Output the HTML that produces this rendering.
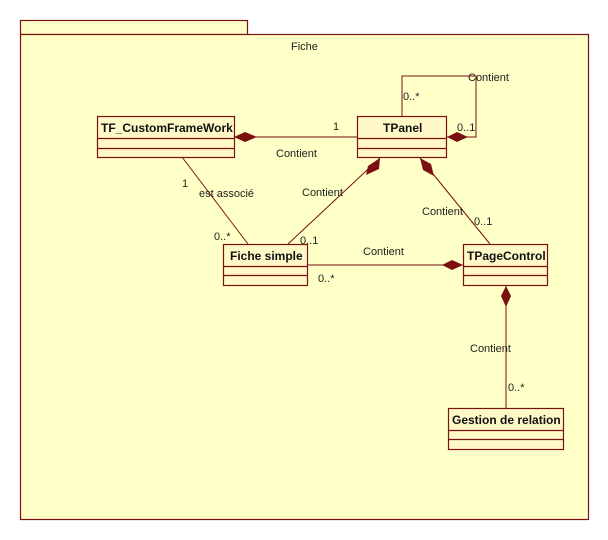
<!DOCTYPE html>
<html><head><meta charset="utf-8"><style>
html,body{margin:0;padding:0;background:#fff;}
svg{display:block;font-family:"Liberation Sans",sans-serif;font-size:11px;}
.b{font-weight:bold;font-size:12px;}
</style></head><body>
<svg width="608" height="540" viewBox="0 0 608 540" xmlns="http://www.w3.org/2000/svg">
<g fill="#ffffc8" stroke="#7a1010" stroke-width="1.2">
<rect x="20.5" y="20.5" width="227" height="14"/>
<rect x="20.5" y="34.5" width="568" height="485"/>
</g>
<text x="291" y="50" fill="#222">Fiche</text>
<g fill="none" stroke="#7a1010" stroke-width="1">
<polyline points="402,116 402,76 476,76 476,137 447,137"/>
<line x1="234" y1="137" x2="358" y2="137"/>
<line x1="182" y1="157" x2="248" y2="244"/>
<line x1="288" y1="244" x2="380" y2="158"/>
<line x1="490" y1="244" x2="420" y2="158"/>
<line x1="308" y1="265" x2="463" y2="265"/>
<line x1="506" y1="285" x2="506" y2="408"/>
</g>
<g fill="#7a1010">
<polygon points="447,137 457,132 468,137 457,142"/>
<polygon points="234,137 245,132 257,137 245,142"/>
<polygon points="463,265 452,260 442,265 452,270"/>
<polygon points="506,286 511,296 506,307 501,296"/>
<polygon points="380,158 379,169 366,175 368,166"/>
<polygon points="420,158 431,164 434,176 423,170"/>
</g>
<g fill="#fff9c8" stroke="#7a1010" stroke-width="1.2">
<rect x="97.5" y="116.5" width="137" height="41"/><line x1="97" y1="138.5" x2="234" y2="138.5"/><line x1="97" y1="148.5" x2="234" y2="148.5"/>
<rect x="357.5" y="116.5" width="89" height="41"/><line x1="357" y1="138.5" x2="447" y2="138.5"/><line x1="357" y1="148.5" x2="447" y2="148.5"/>
<rect x="223.5" y="244.5" width="84" height="41"/><line x1="223" y1="266.5" x2="308" y2="266.5"/><line x1="223" y1="275.5" x2="308" y2="275.5"/>
<rect x="463.5" y="244.5" width="84" height="41"/><line x1="463" y1="266.5" x2="548" y2="266.5"/><line x1="463" y1="275.5" x2="548" y2="275.5"/>
<rect x="448.5" y="408.5" width="115" height="41"/><line x1="448" y1="430.5" x2="563" y2="430.5"/><line x1="448" y1="439.5" x2="563" y2="439.5"/>
</g>
<g fill="#111" class="b">
<text x="101" y="132">TF_CustomFrameWork</text>
<text x="383" y="132">TPanel</text>
<text x="230" y="260">Fiche simple</text>
<text x="467" y="260">TPageControl</text>
<text x="452" y="424">Gestion de relation</text>
</g>
<g fill="#222">
<text x="468" y="81">Contient</text>
<text x="403" y="100">0..*</text>
<text x="457" y="131">0..1</text>
<text x="333" y="130">1</text>
<text x="276" y="157">Contient</text>
<text x="182" y="187">1</text>
<text x="199" y="197">est associé</text>
<text x="214" y="240">0..*</text>
<text x="302" y="196">Contient</text>
<text x="300" y="244">0..1</text>
<text x="422" y="215">Contient</text>
<text x="474" y="225">0..1</text>
<text x="363" y="255">Contient</text>
<text x="318" y="282">0..*</text>
<text x="470" y="352">Contient</text>
<text x="508" y="391">0..*</text>
</g>
</svg>
</body></html>
